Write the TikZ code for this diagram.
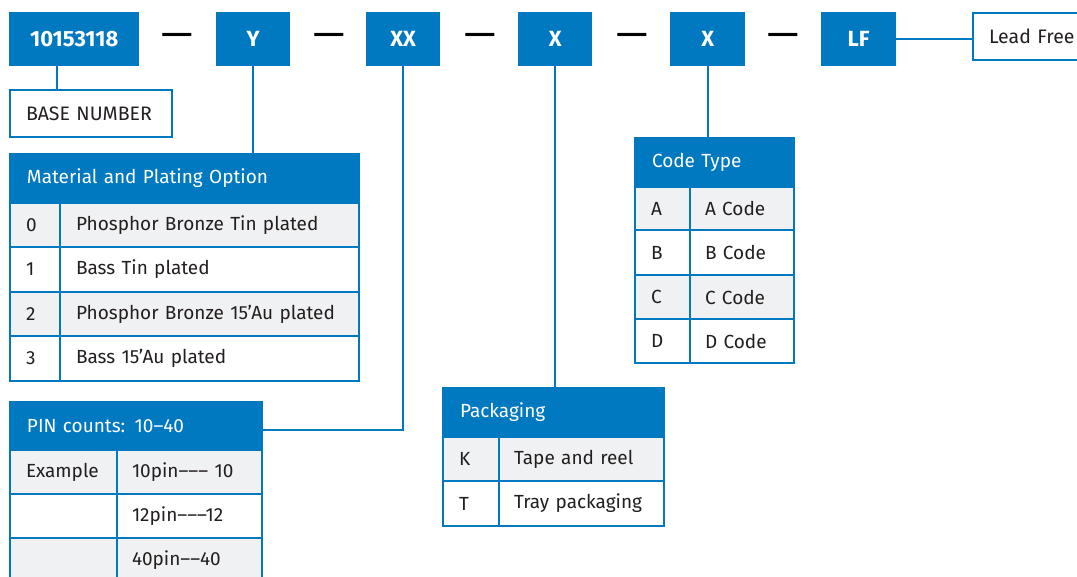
\documentclass[tikz,border=0pt]{standalone}
\usepackage{fontspec}
\setmainfont{Fira Sans}
\definecolor{ib}{HTML}{0079C1}
\definecolor{rowg}{HTML}{F0F1F2}
\definecolor{tx}{HTML}{231F20}
\newcommand{\tabfont}{\fontsize{19}{23}\selectfont}
\newcommand{\lblfont}{\fontsize{19.5}{23}\selectfont}
\begin{document}
\begin{tikzpicture}[x=1pt,y=-1pt,
  topbox/.style={fill=ib,text=white,font=\fontsize{22}{26}\selectfont\bfseries,minimum height=54,inner sep=0,anchor=north west},
  sepdash/.style={text=black,font=\fontsize{40}{44}\selectfont,inner sep=0},
  lblbox/.style={draw=ib,line width=2,fill=white,text=tx,font=\lblfont,anchor=north west,inner xsep=16,inner ysep=0,align=left},
  hdr/.style={draw=ib,line width=2,fill=ib,text=white,font=\tabfont,anchor=north west,inner xsep=17,inner ysep=0,align=left},
  cell/.style={draw=ib,line width=2,text=tx,font=\tabfont,anchor=north west,inner xsep=16,inner ysep=0,align=left},
  gry/.style={cell,fill=rowg},
  wht/.style={cell,fill=white},
  conn/.style={draw=ib,line width=2}]
\useasboundingbox (0,0) rectangle (1077,577);
\clip (0,0) rectangle (1077,577);
% top row
\node[topbox,minimum width=130] (t1) at (9,12) {10153118};
\node[topbox,minimum width=74] (ty) at (216,12) {Y};
\node[topbox,minimum width=74] (txx) at (366,12) {XX};
\node[topbox,minimum width=74] (tx1) at (518,12) {X};
\node[topbox,minimum width=75] (tx2) at (670,12) {X};
\node[topbox,minimum width=75] (tlf) at (821,12) {LF};
\node[sepdash] (d1) at (177,40) {—};
\node[sepdash] (d2) at (329,40) {—};
\node[sepdash] (d3) at (480,40) {—};
\node[sepdash] (d4) at (632,40) {—};
\node[sepdash] (d5) at (783,40) {—};
% labels
\node[lblbox,minimum width=162,minimum height=47,text width=130] (base) at (9,89) {BASE NUMBER};
\node[lblbox,minimum width=130,minimum height=47,text width=98] (lead) at (972,12) {Lead Free};
% Material table
\node[hdr,minimum height=49,text width=315] (mh) at (9,153) {Material and Plating Option};
\node[gry,minimum height=44,text width=18] (m0a) at (9,202) {0};
\node[gry,minimum height=44,text width=267] (m0b) at (59,202) {Phosphor Bronze Tin plated};
\node[wht,minimum height=45,text width=18] (m1a) at (9,246) {1};
\node[wht,minimum height=45,text width=267] (m1b) at (59,246) {Bass Tin plated};
\node[gry,minimum height=44,text width=18] (m2a) at (9,291) {2};
\node[gry,minimum height=44,text width=267] (m2b) at (59,291) {Phosphor Bronze 15’Au plated};
\node[wht,minimum height=45,text width=18] (m3a) at (9,335) {3};
\node[wht,minimum height=45,text width=267] (m3b) at (59,335) {Bass 15’Au plated};
% PIN table
\node[hdr,minimum height=48,text width=218] (ph) at (9,401) {PIN counts: 10–40};
\node[gry,minimum height=44,text width=75] (p1a) at (9,449) {Example};
\node[gry,minimum height=44,text width=115,inner xsep=15] (p1b) at (116,449) {10pin––– 10};
\node[wht,minimum height=44,text width=75] (p2a) at (9,493) {};
\node[wht,minimum height=44,text width=115,inner xsep=15] (p2b) at (116,493) {12pin–––12};
\node[gry,minimum height=44,text width=75] (p3a) at (9,537) {};
\node[gry,minimum height=44,text width=115,inner xsep=15] (p3b) at (116,537) {40pin––40};
% Packaging table
\node[hdr,minimum height=49,text width=187] (kh) at (442,387) {Packaging};
\node[gry,minimum height=44,text width=24] (k1a) at (442,436) {K};
\node[gry,minimum height=44,text width=135,inner xsep=15] (k1b) at (498,436) {Tape and reel};
\node[wht,minimum height=45,text width=24] (k2a) at (442,480) {T};
\node[wht,minimum height=45,text width=135,inner xsep=15] (k2b) at (498,480) {Tray packaging};
% Code type table
\node[hdr,minimum height=49,text width=125] (ch) at (634,137) {Code Type};
\node[gry,minimum height=43,text width=23] (c1a) at (634,186) {A};
\node[gry,minimum height=43,text width=74,inner xsep=15] (c1b) at (689,186) {A Code};
\node[wht,minimum height=45,text width=23] (c2a) at (634,229) {B};
\node[wht,minimum height=45,text width=74,inner xsep=15] (c2b) at (689,229) {B Code};
\node[gry,minimum height=44,text width=23] (c3a) at (634,274) {C};
\node[gry,minimum height=44,text width=74,inner xsep=15] (c3b) at (689,274) {C Code};
\node[wht,minimum height=44,text width=23] (c4a) at (634,318) {D};
\node[wht,minimum height=44,text width=74,inner xsep=15] (c4b) at (689,318) {D Code};
% connectors
\draw[conn] ([xshift=48]t1.south west) -- ([xshift=48]t1.south west |- base.north);
\draw[conn] (ty.south) -- (ty.south |- mh.north);
\draw[conn] (txx.south) |- ([yshift=-4]ph.east);
\draw[conn] (tx1.south) -- (tx1.south |- kh.north);
\draw[conn] (tx2.south) -- (tx2.south |- ch.north);
\draw[conn] (tlf.east) -- (tlf.east -| lead.west);
\end{tikzpicture}
\end{document}
